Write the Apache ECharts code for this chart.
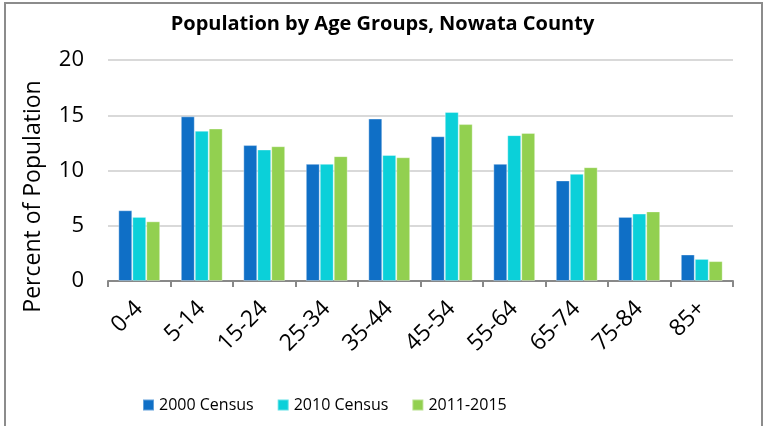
<!DOCTYPE html>
<html>
<head>
<meta charset="utf-8">
<script src="https://cdn.jsdelivr.net/npm/echarts@6/dist/echarts.min.js"></script>
<style>
html,body{margin:0;padding:0;background:#fff;}
#chart{width:765px;height:426px;}
</style>
</head>
<body>
<div id="chart"></div>
<script>
const titleText = "Population by Age Groups, Nowata County";
const yAxisName = "Percent of Population";
const categories = ["0-4","5-14","15-24","25-34","35-44","45-54","55-64","65-74","75-84","85+"];
const seriesNames = ["2000 Census","2010 Census","2011-2015"];
const census2000 = [6.4, 14.9, 12.3, 10.6, 14.7, 13.1, 10.6, 9.1, 5.8, 2.4];
const census2010 = [5.8, 13.6, 11.9, 10.6, 11.4, 15.3, 13.2, 9.7, 6.1, 2.0];
const acs2011_2015 = [5.4, 13.8, 12.2, 11.3, 11.2, 14.2, 13.4, 10.3, 6.3, 1.8];
const yTicks = { min: 0, max: 20, interval: 5 };

const colors = ["#0F6FC6", "#0BD0D9", "#92D050"];
const font = "'Open Sans', sans-serif";
const chart = echarts.init(document.getElementById('chart'));
const dataSets = [census2000, census2010, acs2011_2015];

chart.setOption({
  animation: false,
  color: colors,
  title: {
    text: titleText, left: 'center', top: 9,
    textStyle: { fontFamily: font, fontWeight: 'bold', fontSize: 20, color: '#000' }
  },
  graphic: [{
    type: 'rect', shape: { x: 5, y: 3, width: 757, height: 440 },
    style: { fill: 'none', stroke: '#8c8c8c', lineWidth: 2 }, silent: true
  }],
  legend: {
    bottom: 8, left: 137, itemWidth: 11, itemHeight: 11, itemGap: 23,
    icon: 'rect',
    textStyle: { fontFamily: font, fontSize: 16, color: '#000' },
    data: seriesNames
  },
  grid: { left: 108, right: 32, top: 60, bottom: 145, containLabel: false },
  xAxis: {
    type: 'category', data: categories,
    axisLine: { lineStyle: { color: '#888', width: 2 } },
    axisTick: { show: true, length: 6, lineStyle: { color: '#888', width: 2 } },
    axisLabel: { rotate: 45, fontFamily: font, fontSize: 23, color: '#000', margin: 24 }
  },
  yAxis: {
    type: 'value', min: yTicks.min, max: yTicks.max, interval: yTicks.interval,
    name: yAxisName, nameLocation: 'middle', nameGap: 63,
    nameTextStyle: { fontFamily: font, fontSize: 23, color: '#000', padding: [0, 52, 0, 0] },
    axisLine: { show: false }, axisTick: { show: false },
    axisLabel: { fontFamily: font, fontSize: 22, color: '#000', margin: 24 },
    splitLine: { lineStyle: { color: '#d9d9d9', width: 2 } }
  },
  series: seriesNames.map((name, i) => ({
    name, type: 'bar', data: dataSets[i],
    barGap: '0%', barCategoryGap: '33%',
    itemStyle: { borderColor: 'rgba(255,255,255,0.35)', borderWidth: 1 }
  }))
});
</script>
</body>
</html>
